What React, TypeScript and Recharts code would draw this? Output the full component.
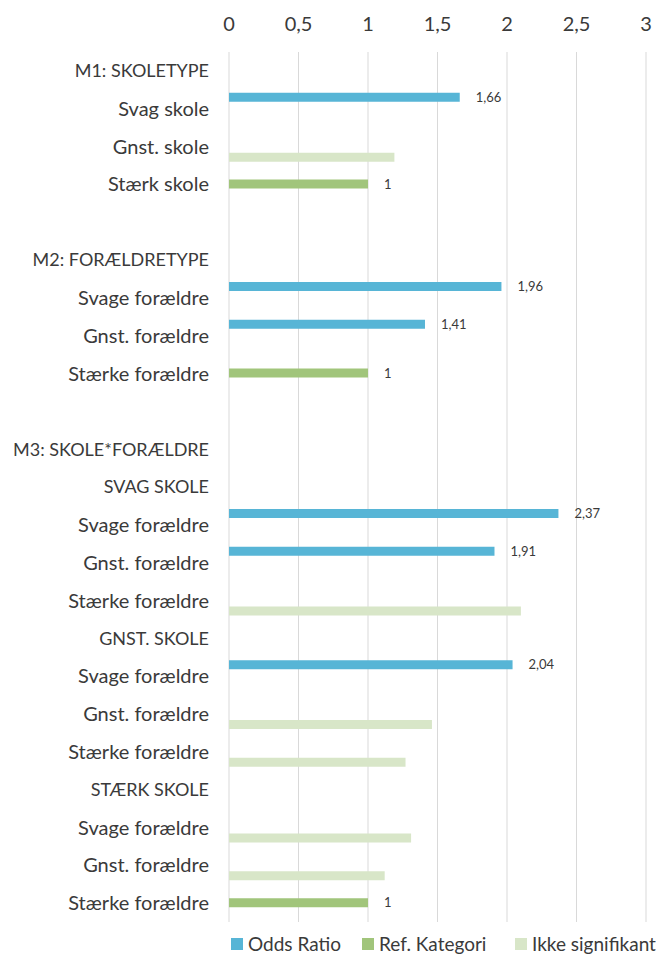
import { BarChart, Bar, XAxis, YAxis, CartesianGrid, LabelList } from 'recharts';

// Category labels, top to bottom (blank rows are spacers)
const CATEGORIES = [
  'M1: SKOLETYPE',
  'Svag skole',
  'Gnst. skole',
  'Stærk skole',
  '',
  'M2: FORÆLDRETYPE',
  'Svage forældre',
  'Gnst. forældre',
  'Stærke forældre',
  '',
  'M3: SKOLE*FORÆLDRE',
  'SVAG SKOLE',
  'Svage forældre',
  'Gnst. forældre',
  'Stærke forældre',
  'GNST. SKOLE',
  'Svage forældre',
  'Gnst. forældre',
  'Stærke forældre',
  'STÆRK SKOLE',
  'Svage forældre',
  'Gnst. forældre',
  'Stærke forældre',
];

const ODDS_RATIO = [
  null, 1.66, null, null, null,
  null, 1.96, 1.41, null, null,
  null, null, 2.37, 1.91, null,
  null, 2.04, null, null,
  null, null, null, null,
];

const REF_KATEGORI = [
  null, null, null, 1, null,
  null, null, null, 1, null,
  null, null, null, null, null,
  null, null, null, null,
  null, null, null, 1,
];

const IKKE_SIGNIFIKANT = [
  null, null, 1.19, null, null,
  null, null, null, null, null,
  null, null, null, null, 2.1,
  null, null, 1.46, 1.27,
  null, 1.31, 1.12, null,
];

const X_TICKS = [0, 0.5, 1, 1.5, 2, 2.5, 3];

const BLUE = '#57b5d6';
const GREEN = '#a1c57b';
const LIGHT = '#d8e6c8';
const TEXT = '#3a3a3a';
const FONT = 'Lato, sans-serif';

const data = CATEGORIES.map((label, i) => ({
  key: String(i),
  label,
  odds: ODDS_RATIO[i],
  refCat: REF_KATEGORI[i],
  ikke: IKKE_SIGNIFIKANT[i],
}));

const fmt = (v: number | string) => String(v).replace('.', ',');

// legend items with their left edge
const LEGEND = [
  { name: 'Odds Ratio', color: BLUE, x: 231 },
  { name: 'Ref. Kategori', color: GREEN, x: 362 },
  { name: 'Ikke signifikant', color: LIGHT, x: 515 },
];

// Lato caps run wider than the original's font, so headings get a slightly smaller size
function CategoryTick(props: any) {
  const { x, y, payload } = props;
  const label = CATEGORIES[Number(payload.value)] ?? '';
  const caps = label !== '' && label === label.toUpperCase();
  return (
    <text x={x} y={y} dy="0.355em" textAnchor="end" fill={TEXT} fontSize={caps ? 18 : 20} fontFamily={FONT}>
      {label}
    </text>
  );
}

export default function App() {
  return (
    <div style={{ position: 'absolute', left: 0, top: 0, width: 656, height: 957, background: '#fff', fontFamily: FONT, overflow: 'hidden' }}>
      <BarChart
        width={656}
        height={957}
        data={data}
        layout="vertical"
        margin={{ top: 22, right: 10, bottom: 35, left: 0 }}
        barSize={9}
        barGap={2}
      >
        <CartesianGrid horizontal={false} stroke="#d9d9d9" />
        <XAxis
          type="number"
          orientation="top"
          domain={[0, 3]}
          ticks={X_TICKS}
          height={30}
          axisLine={false}
          tickLine={false}
          tickSize={0}
          tickMargin={21}
          tickFormatter={fmt}
          tick={{ fill: TEXT, fontSize: 20, fontFamily: FONT }}
        />
        <YAxis
          type="category"
          dataKey="key"
          width={229}
          axisLine={false}
          tickLine={false}
          tickSize={0}
          tickMargin={20}
          interval={0}
          tick={<CategoryTick />}
        />
        <Bar dataKey="odds" name="Odds Ratio" fill={BLUE} isAnimationActive={false}>
          <LabelList dataKey="odds" position="right" offset={16} formatter={(v: any) => (v == null ? '' : fmt(v))} style={{ fill: TEXT, fontSize: 13, fontFamily: FONT }} />
        </Bar>
        <Bar dataKey="refCat" name="Ref. Kategori" fill={GREEN} isAnimationActive={false}>
          <LabelList dataKey="refCat" position="right" offset={16} formatter={(v: any) => (v == null ? '' : fmt(v))} style={{ fill: TEXT, fontSize: 13, fontFamily: FONT }} />
        </Bar>
        <Bar dataKey="ikke" name="Ikke signifikant" fill={LIGHT} isAnimationActive={false} />
      </BarChart>
      {LEGEND.map((l) => (
        <div key={l.name} style={{ position: 'absolute', left: l.x, top: 933, display: 'flex', alignItems: 'center', whiteSpace: 'nowrap', fontSize: 19, lineHeight: '22px', color: TEXT }}>
          <span style={{ display: 'inline-block', width: 12, height: 12, background: l.color, marginRight: 5 }} />
          <span>{l.name}</span>
        </div>
      ))}
    </div>
  );
}
